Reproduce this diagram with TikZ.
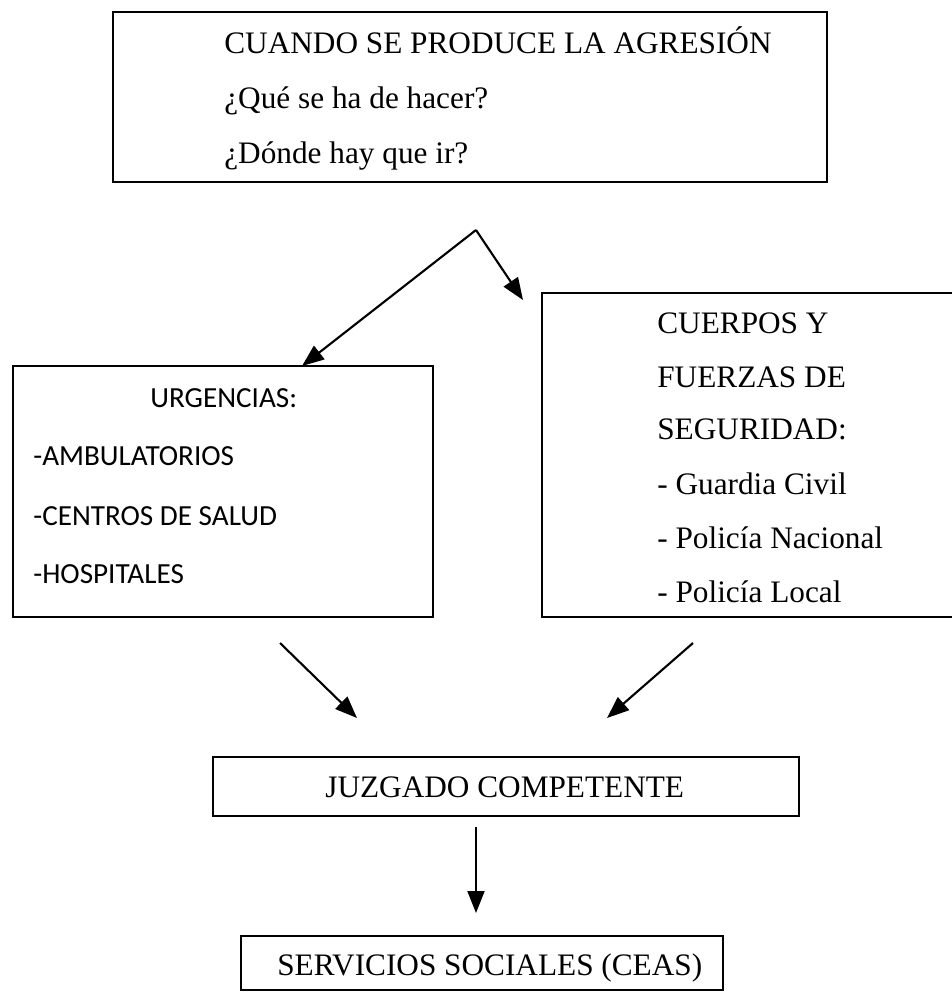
\documentclass[tikz,border=0pt]{standalone}
\usepackage{fontspec}
\setmainfont{Liberation Serif}
\newfontfamily\calibri{Carlito}
\usetikzlibrary{arrows.meta, fit}

\tikzset{
  box/.style={draw, line width=0.9pt, inner sep=0pt},
  arr/.style={line width=1.2pt, -{Triangle[length=0.44cm, width=0.34cm]}},
  txt/.style={anchor=base west, inner sep=0pt, font=\fontsize{17.8}{21}\selectfont},
  sans/.style={anchor=base west, inner sep=0pt, font=\calibri\fontsize{16.6}{19}\selectfont},
}

\begin{document}
\begin{tikzpicture}[x=0.02cm, y=-0.02cm]
  \useasboundingbox (0,0) rectangle (952,992);

  \node (agresion) [box, fit={(113,12) (827,182)}] {}; % top box
  \node (urgencias) [box, fit={(13,366) (433,617)}] {}; % left box
  \node (cuerpos) [box, fit={(542,293) (958,617)}] {}; % right box
  \node (juzgado) [box, fit={(213,757) (799,816)}] {};
  \node (ceas) [box, fit={(241,936) (723,990)}] {};

  \node (q1) [txt] at (224,53) {CUANDO SE PRODUCE LA AGRESIÓN};
  \node (q2) [txt] at (224,108) {¿Qué se ha de hacer?};
  \node (q3) [txt] at (224,163) {¿Dónde hay que ir?};

  \node (u0) [sans] at (150,407) {URGENCIAS:};
  \node (u1) [sans] at (33,465) {-AMBULATORIOS};
  \node (u2) [sans] at (33,525) {-CENTROS DE SALUD};
  \node (u3) [sans] at (33,583) {-HOSPITALES};

  \node (c1) [txt] at (657,333) {CUERPOS Y};
  \node (c2) [txt] at (657,387) {FUERZAS DE};
  \node (c3) [txt] at (657,439) {SEGURIDAD:};
  \node (c4) [txt] at (657,494) {- Guardia Civil};
  \node (c5) [txt] at (657,548) {- Policía Nacional};
  \node (c6) [txt] at (657,602) {- Policía Local};

  \node (j1) [txt] at (325,797) {JUZGADO COMPETENTE};
  \node (s1) [txt] at (277,975) {SERVICIOS SOCIALES (CEAS)};

  % arrows
  \coordinate (split) at (476,230);
  \coordinate (urgTop) at (302,366);
  \coordinate (cueTip) at (523,300);
  \coordinate (urgOut) at (280,643);
  \coordinate (urgIn) at (357,718);
  \coordinate (cueOut) at (693,643);
  \coordinate (cueIn) at (607,718);
  \coordinate (juzOut) at (476,827);
  \coordinate (ceasIn) at (476,913);

  \draw [arr] (split) -- (urgTop);
  \draw [arr] (split) -- (cueTip);
  \draw [arr] (urgOut) -- (urgIn);
  \draw [arr] (cueOut) -- (cueIn);
  \draw [arr] (juzOut) -- (ceasIn);
\end{tikzpicture}
\end{document}
